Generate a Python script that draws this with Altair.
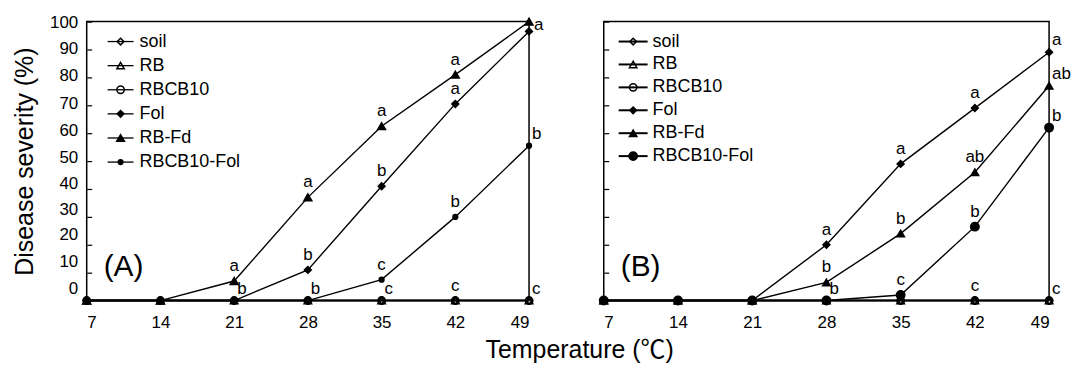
import altair as alt
import pandas as pd

FONT = "Liberation Sans"
FONT_T = "Liberation Sans, Noto Sans CJK SC"

temps = [7, 14, 21, 28, 35, 42, 49]
series = ["soil", "RB", "RBCB10", "Fol", "RB-Fd", "RBCB10-Fol"]
y_ticks = [0, 10, 20, 30, 40, 50, 60, 70, 80, 90, 100]

# Panel A values (disease severity %)
a_soil = [0, 0, 0, 0, 0, 0, 0]
a_rb = [0, 0, 0, 0, 0, 0, 0]
a_rbcb10 = [0, 0, 0, 0, 0, 0, 0]
a_fol = [0, 0, 0, 11, 41, 70.5, 96.5]
a_rbfd = [0, 0, 7, 37, 62.5, 81, 100]
a_rbcb10fol = [0, 0, 0, 0, 7.5, 30, 55.5]

# Panel B values
b_soil = [0, 0, 0, 0, 0, 0, 0]
b_rb = [0, 0, 0, 0, 0, 0, 0]
b_rbcb10 = [0, 0, 0, 0, 0, 0, 0]
b_fol = [0, 0, 0, 20, 49, 69, 89]
b_rbfd = [0, 0, 0, 6.5, 24, 46, 77]
b_rbcb10fol = [0, 0, 0, 0, 2, 26.5, 62]

# significance letters: series anchor, temperature, letter, placement
a_let_series = ["RB-Fd", "soil", "RB-Fd", "Fol", "soil", "RB-Fd", "Fol", "RBCB10-Fol", "soil",
                "RB-Fd", "Fol", "RBCB10-Fol", "soil", "RB-Fd", "RBCB10-Fol", "soil"]
a_let_x = [21, 21, 28, 28, 28, 35, 35, 35, 35, 42, 42, 42, 42, 49, 49, 49]
a_let_text = ["a", "b", "a", "b", "b", "a", "b", "c", "c", "a", "a", "b", "c", "a", "b", "c"]
a_let_place = ["above", "upright", "above", "above", "upright", "above", "above", "above", "upright",
               "above", "above", "above", "above", "right", "upright", "upright"]

b_let_series = ["Fol", "RB-Fd", "soil", "Fol", "RB-Fd", "RBCB10-Fol",
                "Fol", "RB-Fd", "RBCB10-Fol", "soil", "Fol", "RB-Fd", "RBCB10-Fol", "soil"]
b_let_x = [28, 28, 28, 35, 35, 35, 42, 42, 42, 42, 49, 49, 49, 49]
b_let_text = ["a", "b", "b", "a", "b", "c", "a", "ab", "b", "c", "a", "ab", "b", "c"]
b_let_place = ["above", "above", "upright", "above", "above", "above",
               "above", "above", "above", "above", "upright", "upright", "upright", "upright"]

shapes = ["diamond", "triangle-up", "circle", "diamond", "triangle-up", "circle"]
fills = ["transparent", "transparent", "transparent", "black", "black", "black"]

# vertical nudge of the printed y tick labels in the original figure
label_nudge = [(0, -12), (10, -11), (20, -10), (30, -7), (40, -5), (50, -4),
               (60, -3), (70, -2), (80, -2), (90, -1)]


def panel(vals, let_series, let_x, let_text, let_place, sizes, width, first, tag, leg):
    rows = []
    for s, v in zip(series, vals):
        for t, y in zip(temps, v):
            rows.append({"series": s, "temp": t, "value": y})
    df = pd.DataFrame(rows)
    lookup = {s: dict(zip(temps, v)) for s, v in zip(series, vals)}
    ldf = pd.DataFrame({
        "series": let_series, "temp": let_x, "letter": let_text, "place": let_place,
        "value": [lookup[s][t] for s, t in zip(let_series, let_x)],
    })

    x = alt.X("temp:Q", scale=alt.Scale(domain=[7, 49], nice=False, zero=False),
              axis=alt.Axis(values=temps, ticks=False, domain=False, grid=False, title=None,
                            labelFontSize=17, labelFont=FONT, labelColor="black",
                            labelPadding=14))
    y = alt.Y("value:Q", scale=alt.Scale(domain=[0, 100], nice=False, zero=False),
              axis=alt.Axis(values=y_ticks, offset=-5, domain=False, grid=False,
                            tickSize=5, tickColor="black", tickWidth=1.2,
                            labels=first, labelFontSize=17, labelFont=FONT,
                            labelColor="black", labelPadding=9,
                            labelOffset={"condition": [{"test": f"datum.value == {v}", "value": o}
                                                       for v, o in label_nudge],
                                         "value": 1},
                            title="Disease severity (%)" if first else None,
                            titleFontSize=25, titleFont=FONT, titleFontWeight="normal",
                            titleColor="black", titlePadding=12))

    shape = alt.Shape("series:N", scale=alt.Scale(domain=series, range=shapes), legend=None)
    fill = alt.Fill("series:N", scale=alt.Scale(domain=series, range=fills), legend=None)
    size = alt.Size("series:N", scale=alt.Scale(type="ordinal", domain=series, range=sizes),
                    legend=None)

    base = alt.Chart(df)
    lines = base.mark_line(color="black", strokeWidth=1.4).encode(x=x, y=y, detail="series:N")
    points = base.mark_point(filled=True, stroke="black", strokeWidth=1.6, opacity=1).encode(
        x=x, y=y, shape=shape, fill=fill, size=size)

    # legend drawn inside the plot
    lg = pd.DataFrame({"series": series, "row": list(range(len(series)))})
    lbase = alt.Chart(lg).transform_calculate(py=f"{leg['y0']} + datum.row * {leg['dy']}")
    ly = alt.Y("py:Q", scale=None, axis=None)
    lrule = lbase.mark_rule(color="black", strokeWidth=leg["lw"]).encode(
        x=alt.value(leg["x0"]), x2=alt.value(leg["x1"]), y=ly)
    lpts = lbase.mark_point(filled=True, stroke="black", strokeWidth=1.5, opacity=1).encode(
        x=alt.value((leg["x0"] + leg["x1"]) / 2), y=ly, shape=shape, fill=fill, size=size)
    ltxt = lbase.mark_text(align="left", baseline="middle", fontSize=18, font=FONT,
                           color="black").encode(x=alt.value(leg["tx"]), y=ly, text="series:N")

    lb = alt.Chart(ldf)
    t_above = lb.transform_filter("datum.place == 'above'").mark_text(
        align="center", baseline="middle", dy=-15, fontSize=17, font=FONT, color="black"
    ).encode(x=x, y=y, text="letter:N")
    t_upright = lb.transform_filter("datum.place == 'upright'").mark_text(
        align="left", baseline="middle", dx=3, dy=-12, fontSize=17, font=FONT, color="black"
    ).encode(x=x, y=y, text="letter:N")
    t_right = lb.transform_filter("datum.place == 'right'").mark_text(
        align="left", baseline="middle", dx=5, dy=3, fontSize=17, font=FONT, color="black"
    ).encode(x=x, y=y, text="letter:N")

    tg = alt.Chart(pd.DataFrame({"t": [tag]})).mark_text(
        align="center", baseline="middle", fontSize=30, font=FONT, color="black"
    ).encode(x=alt.value(37), y=alt.value(246), text="t:N")

    return alt.layer(lines, points, lrule, lpts, ltxt, t_above, t_upright, t_right, tg).properties(
        width=width, height=280)


pa = panel([a_soil, a_rb, a_rbcb10, a_fol, a_rbfd, a_rbcb10fol],
           a_let_series, a_let_x, a_let_text, a_let_place,
           [45, 55, 55, 45, 60, 22], 444, True, "(A)",
           {"y0": 20, "dy": 24.2, "x0": 21, "x1": 47, "tx": 53, "lw": 1.3})
pb = panel([b_soil, b_rb, b_rbcb10, b_fol, b_rbfd, b_rbcb10fol],
           b_let_series, b_let_x, b_let_text, b_let_place,
           [45, 55, 55, 45, 55, 70], 447, False, "(B)",
           {"y0": 20, "dy": 23, "x0": 15, "x1": 44, "tx": 49, "lw": 2})

chart = alt.hconcat(pa, pb, spacing=50).resolve_scale(
    size="independent"
).properties(
    title=alt.Title("Temperature (℃)", orient="bottom", anchor="middle", fontSize=25,
                    font=FONT_T, fontWeight="normal", color="black", offset=7, dx=38),
    padding={"left": 3, "top": 4, "right": 0, "bottom": 0},
).configure_view(stroke="black", strokeWidth=1.5)

chart.save("out.html", embed_options={"renderer": "svg", "actions": False})
